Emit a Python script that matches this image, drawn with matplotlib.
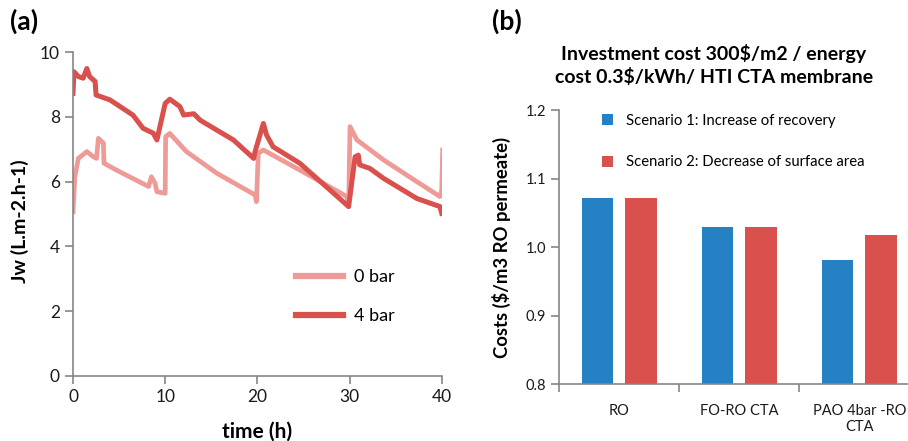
import matplotlib
matplotlib.use("Agg")
import matplotlib.pyplot as plt
import numpy as np

plt.rcParams['font.family'] = ['Lato', 'DejaVu Sans']

# ----- DATA (a): permeate flux vs time -----
t_0bar = [0, 0.2, 0.58, 1.5, 2.2, 2.55, 2.75, 3.3, 3.36, 4.7, 8.2, 8.5, 8.9, 9.1, 10.0,
          10.05, 10.5, 12.3, 15.6, 19.75, 19.9, 20.1, 20.65, 24.6, 29.7, 29.9, 30.05,
          30.8, 33.7, 37.3, 39.8, 40.0, 40.1]
jw_0bar = [5.07, 6.15, 6.72, 6.93, 6.77, 6.72, 7.34, 7.19, 6.57, 6.36, 5.85, 6.15, 5.95,
           5.69, 5.64, 7.39, 7.49, 6.93, 6.26, 5.59, 5.38, 6.88, 6.98, 6.36, 5.54, 5.23,
           7.70, 7.29, 6.67, 6.00, 5.54, 5.74, 6.98]

t_4bar = [0, 0.1, 0.58, 1.1, 1.5, 1.8, 2.4, 2.5, 4.0, 6.5, 7.6, 8.7, 9.1, 10.0, 10.5,
          11.6, 12.0, 13.1, 13.8, 17.4, 19.6, 19.75, 20.65, 21.0, 21.7, 24.6, 29.9,
          30.6, 30.95, 31.1, 32.2, 33.7, 37.3, 39.8, 40.0]
jw_4bar = [8.73, 9.40, 9.25, 9.20, 9.50, 9.25, 9.10, 8.68, 8.53, 8.06, 7.65, 7.50, 7.29,
           8.42, 8.55, 8.32, 8.06, 8.10, 7.90, 7.29, 6.72, 6.93, 7.80, 7.44, 7.08, 6.57,
           5.23, 6.77, 6.82, 6.52, 6.41, 6.10, 5.48, 5.23, 5.02]

# ----- DATA (b): costs -----
categories = ["RO", "FO-RO CTA", "PAO 4bar -RO\nCTA"]
scenario1 = [1.072, 1.029, 0.981]
scenario2 = [1.072, 1.030, 1.018]
scen_labels = ["Scenario 1: Increase of recovery", "Scenario 2: Decrease of surface area"]

C_LIGHT = "#EE9B98"
C_DARK = "#D9504C"
C_BLUE = "#2681C4"
C_SPINE = "#868686"
C_TXT = "#1a1a1a"

fig = plt.figure(figsize=(9.08, 4.41), dpi=100)

# ----- PANEL (a) -----
ax1 = fig.add_axes([0.0804, 0.148, 0.4061, 0.7334])
ax1.plot(t_0bar, jw_0bar, color=C_LIGHT, lw=3.4, label="0 bar", solid_joinstyle="round")
ax1.plot(t_4bar, jw_4bar, color=C_DARK, lw=3.6, label="4 bar", solid_joinstyle="round")
ax1.set_xlim(0, 40)
ax1.set_ylim(0, 10)
ax1.set_xticks([0, 10, 20, 30, 40])
ax1.set_yticks([0, 2, 4, 6, 8, 10])
for s in ["top", "right"]:
    ax1.spines[s].set_visible(False)
for s in ["left", "bottom"]:
    ax1.spines[s].set_color(C_SPINE)
    ax1.spines[s].set_linewidth(1.2)
ax1.tick_params(direction="out", length=6, width=1.2, color=C_SPINE,
                labelsize=12.5, labelcolor=C_TXT)
ax1.set_xlabel("time (h)", fontsize=15, fontweight="bold", va="center")
ax1.xaxis.set_label_coords(0.5, -0.174)
ax1.set_ylabel("Jw (L.m-2.h-1)", fontsize=14, fontweight="bold", va="center")
ax1.yaxis.set_label_coords(-0.145, 0.478)
leg1 = ax1.legend(loc="lower left", bbox_to_anchor=(0.56, 0.11), frameon=False,
                  fontsize=13, handlelength=2.6, labelspacing=1.25, handletextpad=0.6)
for h in leg1.get_lines():
    h.set_linewidth(4.5)
fig.text(0.011, 0.952, "(a)", fontsize=19, fontweight="bold", va="center")

# ----- PANEL (b) -----
ax2 = fig.add_axes([0.616, 0.129, 0.3965, 0.6213])
x = np.arange(len(categories))
w = 0.26
ax2.bar(x - 0.18, scenario1, w, color=C_BLUE, label=scen_labels[0])
ax2.bar(x + 0.18, scenario2, w, color=C_DARK, label=scen_labels[1])
ax2.set_xlim(-0.5, 2.5)
ax2.set_ylim(0.8, 1.2)
ax2.set_yticks([0.8, 0.9, 1.0, 1.1, 1.2])
ax2.set_yticklabels([f"{v:.1f}" for v in [0.8, 0.9, 1.0, 1.1, 1.2]])
ax2.set_xticks([-0.5, 0.5, 1.5, 2.5])
ax2.set_xticklabels([])
ax2.set_xticks(x, minor=True)
ax2.set_xticklabels(categories, minor=True, fontsize=10.5, color=C_TXT)
ax2.tick_params(axis="x", which="minor", length=0, pad=14)
ax2.tick_params(axis="x", which="major", direction="out", length=6, width=1.2, color=C_SPINE)
ax2.tick_params(axis="y", direction="out", length=6, width=1.2, color=C_SPINE,
                labelsize=10.5, labelcolor=C_TXT)
for s in ["top", "right"]:
    ax2.spines[s].set_visible(False)
for s in ["left", "bottom"]:
    ax2.spines[s].set_color(C_SPINE)
    ax2.spines[s].set_linewidth(1.2)
ax2.set_ylabel("Costs ($/m3 RO permeate)", fontsize=13.3, fontweight="bold", va="center")
ax2.yaxis.set_label_coords(-0.16, 0.5)
ax2.legend(loc="upper left", bbox_to_anchor=(0.08, 1.035), frameon=False, fontsize=10.7,
           handlelength=0.75, handleheight=0.75, labelspacing=1.85, handletextpad=0.9)
fig.text(0.5 + 0.0415, 0.952, "(b)", fontsize=19, fontweight="bold", va="center")
fig.text(0.786, 0.853, "Investment cost 300$/m2 / energy\ncost 0.3$/kWh/ HTI CTA membrane",
         fontsize=14, fontweight="bold", ha="center", va="center", linespacing=1.3)

fig.savefig("out.png", dpi=100)
plt.close()
